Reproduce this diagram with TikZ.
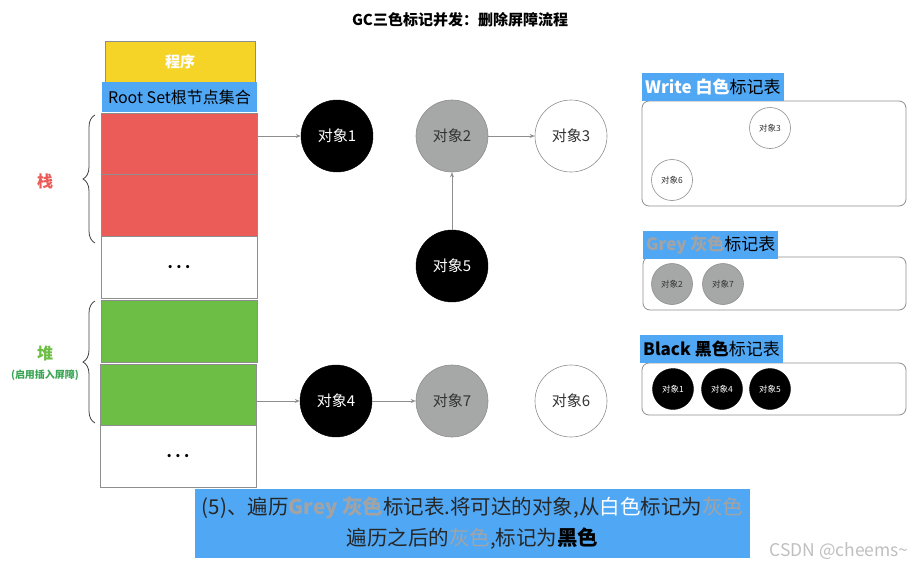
\documentclass[tikz,border=0pt]{standalone}
\usepackage{fontspec}
\setmainfont{Noto Sans CJK SC}
\usetikzlibrary{arrows.meta,decorations.pathreplacing}
\definecolor{ublue}{HTML}{50A8F5}
\definecolor{uyellow}{HTML}{F5D327}
\definecolor{ured}{HTML}{EB5B57}
\definecolor{ugreen}{HTML}{6DBE45}
\definecolor{udgreen}{HTML}{3AA655}
\definecolor{ugrey}{HTML}{A5A8A6}
\definecolor{tgrey}{HTML}{A3A3A3}
\definecolor{lgrey}{HTML}{8E8E8E}
\begin{document}
\begin{tikzpicture}[x=1pt,y=-1pt,
  box/.style={draw=lgrey,line width=0.8pt,anchor=north west,minimum width=156pt,inner sep=0pt,outer sep=0pt,font=\fontsize{16}{16}\selectfont},
  obj/.style={circle,minimum size=72pt,inner sep=0pt,font=\fontsize{15}{15}\selectfont},
  blk/.style={obj,fill=black,draw=black,text=white},
  gry/.style={obj,fill=ugrey,draw=lgrey,line width=0.6pt,text=black!80},
  wht/.style={obj,fill=white,draw=lgrey,line width=0.6pt,text=black!80},
  sm/.style={minimum size=41pt,font=\fontsize{8.5}{9}\selectfont},
  arr/.style={draw=lgrey,line width=0.8pt,-{Stealth[length=5pt,width=4pt]}},
  tbl/.style={draw=lgrey,line width=0.8pt,rounded corners=7pt},
  lab/.style={fill=ublue,anchor=north west,inner xsep=3pt,inner ysep=0pt,minimum height=28pt,font=\fontsize{17}{17}\selectfont},
  brc/.style={decorate,decoration={brace,amplitude=12pt},draw=black!75,line width=0.8pt}
]
\useasboundingbox (0,0) rectangle (919,571);

\node[font=\bfseries\fontsize{15}{15}\selectfont] (title) at (460,20) {GC三色标记并发：删除屏障流程};

% stack column
\node[box,fill=uyellow,minimum width=150pt,minimum height=41pt,text=white,font=\bfseries\fontsize{15}{15}\selectfont] (prog) at (105,41) {程序};
\node[box,draw=none,fill=ublue,minimum width=155pt,minimum height=30pt] (root) at (102,82) {Root Set根节点集合};
\node[box,fill=ured,minimum height=61pt] (r1) at (101,113) {};
\node[box,fill=ured,minimum height=62pt] (r2) at (101,174) {};
\node[box,fill=white,minimum height=62pt] (d1) at (101,236) {};
\node[box,fill=ugreen,minimum height=62pt] (g1) at (101,300) {};
\node[box,fill=ugreen,minimum height=61pt] (g2) at (100,364) {};
\node[box,fill=white,minimum height=62pt] (d2) at (100,425) {};
\node[font=\bfseries\fontsize{15}{15}\selectfont] (dots1) at (d1.center) {.\ .\ .};
\node[font=\bfseries\fontsize{15}{15}\selectfont] (dots2) at (d2.center) {.\ .\ .};

% braces
\coordinate (b1a) at (95,243);
\coordinate (b1b) at (95,115);
\coordinate (b2a) at (95,423);
\coordinate (b2b) at (95,301);
\draw[brc] (b1a) -- (b1b);
\draw[brc] (b2a) -- (b2b);
\node[text=ured,font=\bfseries\fontsize{16}{16}\selectfont] (zhan) at (45,181) {栈};
\node[text=ugreen,font=\bfseries\fontsize{16}{16}\selectfont] (dui) at (45,353) {堆};
\node[text=udgreen,font=\bfseries\fontsize{10}{10}\selectfont] (dui2) at (45,375) {(启用插入屏障)};

% objects
\node[blk] (o1) at (337,136) {对象1};
\node[gry] (o2) at (452,136) {对象2};
\node[wht] (o3) at (571,136) {对象3};
\node[blk] (o5) at (452,266) {对象5};
\node[blk] (o4) at (336,401) {对象4};
\node[gry] (o7) at (452,401) {对象7};
\node[wht] (o6) at (571,401) {对象6};

\draw[arr] (r1.east |- o1) -- (o1);
\draw[arr] (o2) -- (o3);
\draw[arr] (o5) -- (o2);
\draw[arr] (g2.east |- o4) -- (o4);
\draw[arr] (o4) -- (o7);

% right tables
\draw[tbl] (642,101) rectangle (906,206);
\node[lab] (lw) at (642,73) {\textcolor{white}{\bfseries Write 白色}标记表};
\node[wht,sm] (w3) at (770,128) {对象3};
\node[wht,sm] (w6) at (672,180) {对象6};

\draw[tbl] (643,257) rectangle (906,310);
\node[lab] (lg) at (643,231) {\textcolor{tgrey}{\bfseries Grey 灰色}标记表};
\node[gry,sm] (g2s) at (672,284) {对象2};
\node[gry,sm] (g7s) at (723,284) {对象7};

\draw[tbl] (642,363) rectangle (906,415);
\node[lab] (lb) at (640,335) {{\bfseries Black 黑色}标记表};
\node[blk,sm] (b1s) at (673,389) {对象1};
\node[blk,sm] (b4s) at (722,389) {对象4};
\node[blk,sm] (b5s) at (770,389) {对象5};

% caption
\node[fill=ublue,minimum width=555pt,minimum height=69pt,inner sep=0pt,align=center,font=\fontsize{20.5}{31}\selectfont,text=black!85] (cap) at (472.5,523.5)
 {(5)、遍历\textcolor{tgrey}{\bfseries Grey 灰色}标记表.将可达的对象,从\textcolor{white}{白色}标记为\textcolor{tgrey}{灰色}\\
  遍历之后的\textcolor{tgrey}{灰色},标记为\textcolor{black}{\bfseries 黑色}};

\node[text=black!25,font=\fontsize{17.5}{17.5}\selectfont] (wm) at (839,551) {CSDN @cheems\textasciitilde};
\end{tikzpicture}
\end{document}
